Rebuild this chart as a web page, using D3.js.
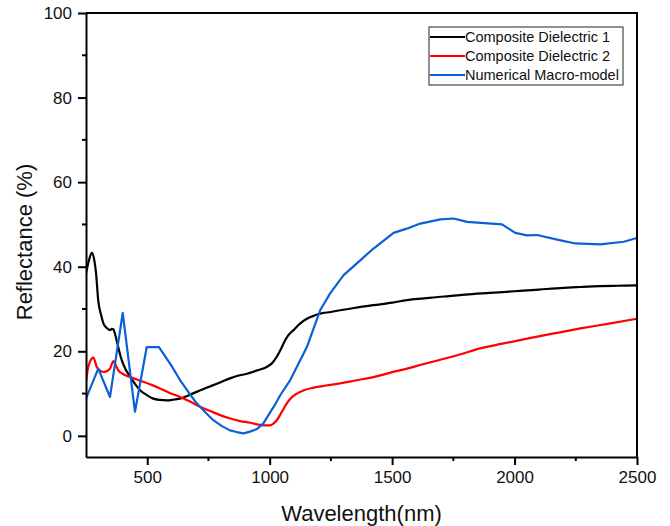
<!DOCTYPE html>
<html>
<head>
<meta charset="utf-8">
<script src="https://cdn.jsdelivr.net/npm/d3@7"></script>
<style>
  body { margin: 0; background: #fff; }
  text { font-family: "Liberation Sans", Arial, sans-serif; }
</style>
</head>
<body>
<div id="chart"></div>
<script>
// data (wavelength nm, reflectance %)
var dielectric1_wl = [250, 262, 274, 284, 291, 300, 312, 321, 335, 348, 356, 362, 368, 375, 385, 396, 412, 430, 450, 471, 500, 525, 552, 580, 610, 634, 670, 702, 740, 770, 805, 838, 870, 907, 950, 988, 1010, 1029, 1045, 1056, 1075, 1097, 1125, 1152, 1180, 1206, 1250, 1288, 1350, 1424, 1500, 1561, 1630, 1697, 1724, 1800, 1900, 2000, 2051, 2100, 2200, 2269, 2350, 2420, 2500];
var dielectric1_r = [38.4, 41.5, 43.3, 41.5, 38.5, 32, 28.5, 26.6, 25.5, 25, 25.3, 25.2, 24.2, 22.6, 20.2, 17.9, 15.7, 14, 12.3, 10.8, 9.6, 8.8, 8.5, 8.4, 8.6, 8.8, 9.6, 10.4, 11.3, 12, 12.8, 13.6, 14.2, 14.7, 15.5, 16.3, 17.2, 18.7, 20.4, 21.8, 23.7, 25, 26.6, 27.7, 28.4, 28.9, 29.3, 29.7, 30.3, 30.9, 31.5, 32.1, 32.5, 32.9, 33, 33.4, 33.8, 34.2, 34.4, 34.6, 35, 35.2, 35.4, 35.5, 35.6];

var dielectric2_wl = [250, 258, 266, 280, 294, 308, 321, 335, 348, 362, 372, 382, 405, 430, 455, 484, 520, 552, 590, 634, 675, 716, 760, 798, 840, 879, 920, 950, 975, 1002, 1015, 1029, 1050, 1070, 1090, 1111, 1140, 1179, 1230, 1288, 1350, 1424, 1490, 1561, 1630, 1697, 1780, 1860, 1950, 2051, 2150, 2269, 2380, 2500];
var dielectric2_r = [12.8, 16, 17.5, 18.5, 16.3, 15.4, 15.1, 15.3, 15.9, 17.7, 16.6, 15.5, 14.5, 13.9, 13.4, 12.8, 12, 11.2, 10.2, 9.2, 8.1, 6.9, 5.8, 4.9, 4.1, 3.5, 3.1, 2.7, 2.5, 2.5, 2.9, 3.7, 5.7, 7.7, 9.1, 10, 10.8, 11.4, 11.9, 12.4, 13.1, 13.9, 14.9, 15.9, 17, 18, 19.3, 20.7, 21.8, 23, 24.1, 25.4, 26.5, 27.7];

var macro_wl = [250, 300, 348, 400, 450, 498, 548, 600, 634, 670, 702, 740, 770, 805, 838, 865, 893, 920, 948, 975, 995, 1020, 1043, 1084, 1152, 1206, 1247, 1302, 1356, 1424, 1506, 1560, 1615, 1697, 1751, 1806, 1949, 2003, 2051, 2092, 2174, 2248, 2350, 2446, 2500];
var macro_r = [8.8, 15.9, 9.2, 29.1, 5.7, 21, 21, 16.5, 13.2, 10.2, 7.7, 5.4, 3.7, 2.3, 1.3, 0.9, 0.6, 1, 1.6, 3, 4.9, 7.2, 9.6, 13.2, 21, 29.7, 33.7, 38, 40.8, 44.3, 48, 49, 50.2, 51.2, 51.4, 50.6, 50, 48, 47.4, 47.5, 46.4, 45.5, 45.3, 45.9, 46.8];

var seriesNames = ["Composite Dielectric 1", "Composite Dielectric 2", "Numerical Macro-model"];
var seriesColors = ["#000000", "#ff0000", "#0d5fd8"];

var xTicks = [500, 1000, 1500, 2000, 2500];
var xMinor = [750, 1250, 1750, 2250];
var yTicks = [0, 20, 40, 60, 80, 100];
var yMinor = [10, 30, 50, 70, 90];

var width = 670, height = 526;
var margin = {left: 86, right: 33, top: 13, bottom: 69};

var svg = d3.select("#chart").append("svg")
    .attr("width", width)
    .attr("height", height);

var x = d3.scaleLinear().domain([250, 2500]).range([margin.left, width - margin.right]);
var y = d3.scaleLinear().domain([-5, 100]).range([height - margin.bottom, margin.top]);

var zip = function(a, b) { return a.map(function(v, i) { return [v, b[i]]; }); };
var series = [
    {name: seriesNames[0], color: seriesColors[0], pts: zip(dielectric1_wl, dielectric1_r), curve: d3.curveMonotoneX},
    {name: seriesNames[1], color: seriesColors[1], pts: zip(dielectric2_wl, dielectric2_r), curve: d3.curveMonotoneX},
    {name: seriesNames[2], color: seriesColors[2], pts: zip(macro_wl, macro_r), curve: d3.curveLinear}
];

// clip so lines stay inside the frame
svg.append("clipPath").attr("id", "clip").append("rect")
    .attr("x", x.range()[0]).attr("y", y.range()[1])
    .attr("width", x.range()[1] - x.range()[0])
    .attr("height", y.range()[0] - y.range()[1]);

var lines = svg.append("g").attr("clip-path", "url(#clip)");
series.forEach(function(s) {
    var line = d3.line()
        .x(function(d) { return x(d[0]); })
        .y(function(d) { return y(d[1]); })
        .curve(s.curve);
    lines.append("path")
        .datum(s.pts)
        .attr("fill", "none")
        .attr("stroke", s.color)
        .attr("stroke-width", 2.2)
        .attr("stroke-linejoin", "round")
        .attr("d", line);
});

// axes
var xAxis = svg.append("g")
    .attr("transform", "translate(0," + y.range()[0] + ")")
    .call(d3.axisBottom(x).tickValues(xTicks).tickFormat(d3.format("d"))
        .tickSizeInner(8).tickSizeOuter(0).tickPadding(6));
xAxis.append("g").selectAll("line").data(xMinor).enter().append("line")
    .attr("x1", function(d) { return x(d); }).attr("x2", function(d) { return x(d); })
    .attr("y1", 0).attr("y2", 4).attr("stroke", "#000").attr("stroke-width", 2);

var yAxis = svg.append("g")
    .attr("transform", "translate(" + x.range()[0] + ",0)")
    .call(d3.axisLeft(y).tickValues(yTicks).tickFormat(d3.format("d"))
        .tickSizeInner(8).tickSizeOuter(0).tickPadding(6));
yAxis.append("g").selectAll("line").data(yMinor).enter().append("line")
    .attr("y1", function(d) { return y(d); }).attr("y2", function(d) { return y(d); })
    .attr("x1", 0).attr("x2", -4).attr("stroke", "#000").attr("stroke-width", 2);

[xAxis, yAxis].forEach(function(g) {
    g.select(".domain").attr("stroke-width", 2);
    g.selectAll(".tick line").attr("stroke-width", 2);
    g.selectAll(".tick text")
        .style("font-family", "'Liberation Sans', Arial, sans-serif")
        .style("font-size", "17px")
        .attr("fill", "#111");
});

// top and right frame
svg.append("path")
    .attr("d", "M" + x.range()[0] + "," + y.range()[1] + "H" + x.range()[1] + "V" + y.range()[0])
    .attr("fill", "none").attr("stroke", "#000").attr("stroke-width", 2);

// axis titles
svg.append("text")
    .attr("x", (x.range()[0] + x.range()[1]) / 2)
    .attr("y", 521)
    .attr("text-anchor", "middle")
    .style("font-size", "22px")
    .attr("fill", "#111")
    .text("Wavelength(nm)");

svg.append("text")
    .attr("transform", "translate(32,242) rotate(-90)")
    .attr("text-anchor", "middle")
    .style("font-size", "22px")
    .attr("fill", "#111")
    .text("Reflectance (%)");

// legend
var legend = svg.append("g").attr("transform", "translate(429,27)");
legend.append("rect")
    .attr("width", 194).attr("height", 58)
    .attr("fill", "#fff").attr("stroke", "#222").attr("stroke-width", 1);
series.forEach(function(s, i) {
    var cy = 10 + i * 19;
    legend.append("line")
        .attr("x1", 1).attr("x2", 36).attr("y1", cy).attr("y2", cy)
        .attr("stroke", s.color).attr("stroke-width", 2);
    legend.append("text")
        .attr("x", 36).attr("y", cy + 5)
        .style("font-size", "14.5px")
        .attr("fill", "#111")
        .text(s.name);
});
</script>
</body>
</html>
